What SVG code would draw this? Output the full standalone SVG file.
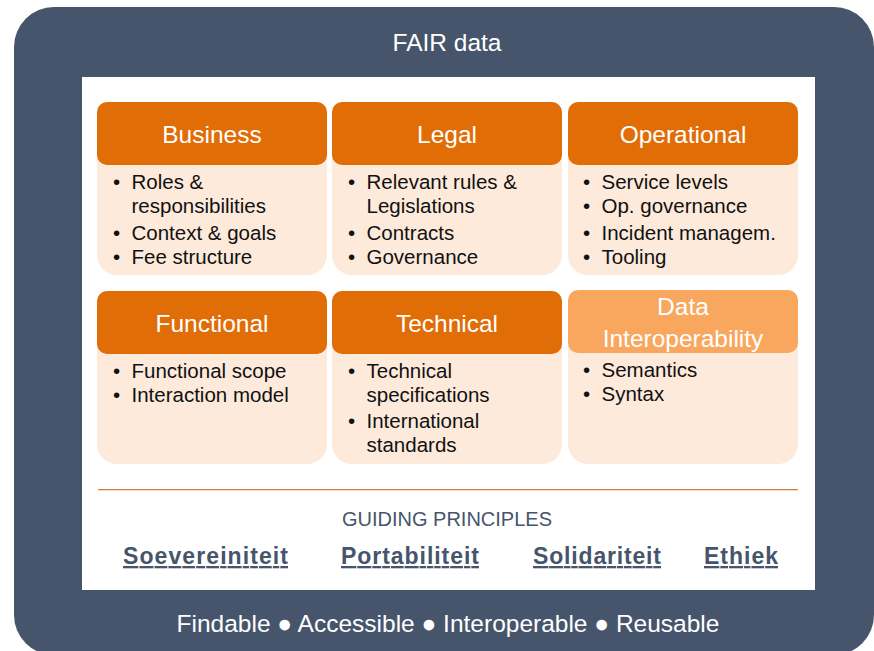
<svg xmlns="http://www.w3.org/2000/svg" width="874" height="651" viewBox="0 0 874 651">
<style>
text{font-family:"Liberation Sans",Arial,sans-serif}
.hdr{fill:#E06D06}
.hdr2{fill:#F9A75E}
.body{fill:#FDEADB}
.ht{font-size:24.5px;fill:#fff;text-anchor:middle}
.bt{font-size:20.5px;fill:#111}
.bu{font-size:20.5px;fill:#111;text-anchor:middle}
.pr{font-size:23px;font-weight:bold;fill:#46556B;text-decoration:underline}
.wt{fill:#fff;font-size:24.5px;text-anchor:middle}
</style>
<rect x="14" y="7" width="860" height="648" rx="40" fill="#46556B"/>
<text class="wt" x="447" y="51">FAIR data</text>
<rect x="82" y="77" width="733" height="513" fill="#fff"/>

<g id="business">
<rect class="body" x="97" y="102" width="230" height="173" rx="20"/>
<rect class="hdr" x="97" y="102" width="230" height="63" rx="10"/>
<text class="ht" x="212" y="142.5">Business</text>
<text class="bu" x="116.5" y="188.5">•</text><text class="bt" x="131.5" y="188.5">Roles &amp;</text>
<text class="bt" x="131.5" y="212.5">responsibilities</text>
<text class="bu" x="116.5" y="239.5">•</text><text class="bt" x="131.5" y="239.5">Context &amp; goals</text>
<text class="bu" x="116.5" y="263.5">•</text><text class="bt" x="131.5" y="263.5">Fee structure</text>
</g>

<g id="legal">
<rect class="body" x="332" y="102" width="230" height="173" rx="20"/>
<rect class="hdr" x="332" y="102" width="230" height="63" rx="10"/>
<text class="ht" x="447" y="142.5">Legal</text>
<text class="bu" x="351.5" y="188.5">•</text><text class="bt" x="366.5" y="188.5">Relevant rules &amp;</text>
<text class="bt" x="366.5" y="212.5">Legislations</text>
<text class="bu" x="351.5" y="239.5">•</text><text class="bt" x="366.5" y="239.5">Contracts</text>
<text class="bu" x="351.5" y="263.5">•</text><text class="bt" x="366.5" y="263.5">Governance</text>
</g>

<g id="operational">
<rect class="body" x="568" y="102" width="230" height="173" rx="20"/>
<rect class="hdr" x="568" y="102" width="230" height="63" rx="10"/>
<text class="ht" x="683" y="142.5">Operational</text>
<text class="bu" x="586.5" y="188.5">•</text><text class="bt" x="601.5" y="188.5">Service levels</text>
<text class="bu" x="586.5" y="212.5">•</text><text class="bt" x="601.5" y="212.5">Op. governance</text>
<text class="bu" x="586.5" y="239.5">•</text><text class="bt" x="601.5" y="239.5">Incident managem.</text>
<text class="bu" x="586.5" y="263.5">•</text><text class="bt" x="601.5" y="263.5">Tooling</text>
</g>

<g id="functional">
<rect class="body" x="97" y="291" width="230" height="173" rx="20"/>
<rect class="hdr" x="97" y="291" width="230" height="63" rx="10"/>
<text class="ht" x="212" y="331.5">Functional</text>
<text class="bu" x="116.5" y="377.5">•</text><text class="bt" x="131.5" y="377.5">Functional scope</text>
<text class="bu" x="116.5" y="401.5">•</text><text class="bt" x="131.5" y="401.5">Interaction model</text>
</g>

<g id="technical">
<rect class="body" x="332" y="291" width="230" height="173" rx="20"/>
<rect class="hdr" x="332" y="291" width="230" height="63" rx="10"/>
<text class="ht" x="447" y="331.5">Technical</text>
<text class="bu" x="351.5" y="377.5">•</text><text class="bt" x="366.5" y="377.5">Technical</text>
<text class="bt" x="366.5" y="401.5">specifications</text>
<text class="bu" x="351.5" y="427.5">•</text><text class="bt" x="366.5" y="427.5">International</text>
<text class="bt" x="366.5" y="451.5">standards</text>
</g>

<g id="data-interoperability">
<rect class="body" x="568" y="290" width="230" height="174" rx="20"/>
<rect class="hdr2" x="568" y="290" width="230" height="63" rx="10"/>
<text class="ht" x="683" y="315">Data</text>
<text class="ht" x="683" y="347">Interoperability</text>
<text class="bu" x="586.5" y="376.5">•</text><text class="bt" x="601.5" y="376.5">Semantics</text>
<text class="bu" x="586.5" y="400.5">•</text><text class="bt" x="601.5" y="400.5">Syntax</text>
</g>

<g id="connectors">
<rect x="98" y="489" width="700" height="1.3" fill="#D97C3A"/>
</g>

<g id="principles">
<text x="447" y="526" style="font-size:20px;fill:#46556B;text-anchor:middle">GUIDING PRINCIPLES</text>
<text class="pr" x="123" y="564" textLength="165" lengthAdjust="spacing">Soevereiniteit</text>
<text class="pr" x="341" y="564" textLength="138" lengthAdjust="spacing">Portabiliteit</text>
<text class="pr" x="533" y="564" textLength="128" lengthAdjust="spacing">Solidariteit</text>
<text class="pr" x="704" y="564" textLength="74" lengthAdjust="spacing">Ethiek</text>
</g>

<text class="wt" x="448" y="632">Findable ● Accessible ● Interoperable ● Reusable</text>
</svg>
